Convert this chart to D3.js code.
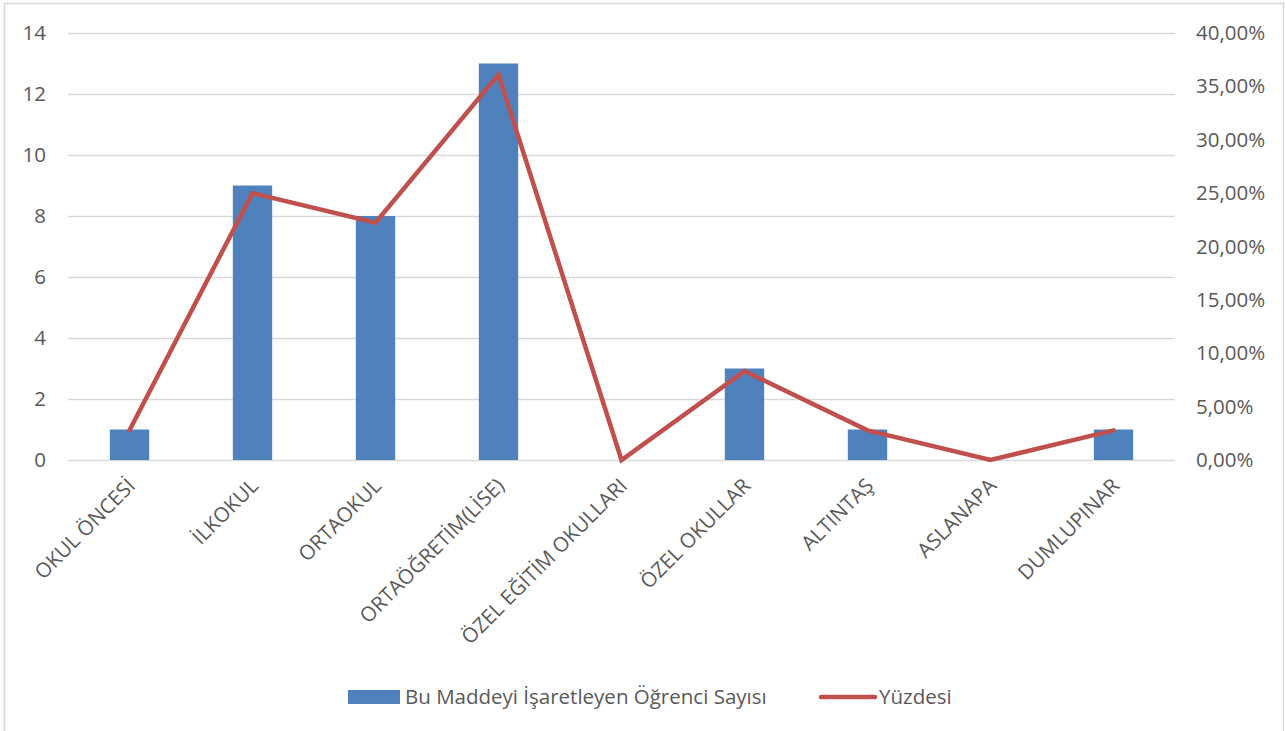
<!DOCTYPE html>
<html>
<head>
<meta charset="utf-8">
<script src="https://cdn.jsdelivr.net/npm/d3@7"></script>
<style>
  body { margin: 0; background: #fff; }
  svg text { font-family: "Open Sans", Lato, sans-serif; fill: #595959; }
</style>
</head>
<body>
<svg id="chart" width="1285" height="731"></svg>
<script>
// Veriler
const categories = ["OKUL ÖNCESİ", "İLKOKUL", "ORTAOKUL", "ORTAÖĞRETİM(LİSE)", "ÖZEL EĞİTİM OKULLARI",
  "ÖZEL OKULLAR", "ALTINTAŞ", "ASLANAPA", "DUMLUPINAR"];
const counts = [1, 9, 8, 13, 0, 3, 1, 0, 1];
const percents = [2.78, 25.0, 22.22, 36.11, 0, 8.33, 2.78, 0, 2.78];
const leftTicks = [0, 2, 4, 6, 8, 10, 12, 14];
const rightTicks = [0, 5, 10, 15, 20, 25, 30, 35, 40];
const seriesNames = ["Bu Maddeyi İşaretleyen Öğrenci Sayısı", "Yüzdesi"];

const svg = d3.select("#chart");
const W = +svg.attr("width"), H = +svg.attr("height");
const fs = "20.5px";

// çerçeve
svg.append("rect")
  .attr("x", 4.5).attr("y", 3.5).attr("width", W - 6).attr("height", H + 10)
  .attr("fill", "none").attr("stroke", "#d9d9d9").attr("stroke-width", 1.5);

const plot = { left: 68, right: 1175, top: 33, bottom: 460 };

const x = d3.scaleBand().domain(categories).range([plot.left, plot.right]).paddingInner(0.68).paddingOuter(0.34);
const yL = d3.scaleLinear().domain([0, 14]).range([plot.bottom, plot.top]);
const yR = d3.scaleLinear().domain([0, 40]).range([plot.bottom, plot.top]);
const cx = d => x(d) + x.bandwidth() / 2;

// ızgara
svg.append("g").selectAll("line").data(leftTicks).join("line")
  .attr("x1", plot.left).attr("x2", plot.right)
  .attr("y1", d => Math.round(yL(d)) + 0.5).attr("y2", d => Math.round(yL(d)) + 0.5)
  .attr("stroke", "#d9d9d9").attr("stroke-width", 1.5);

// sol eksen
const axL = svg.append("g").attr("transform", `translate(${plot.left},0)`)
  .call(d3.axisLeft(yL).tickValues(leftTicks).tickSize(0).tickPadding(22));
axL.select(".domain").remove();
axL.selectAll("text").style("font-size", fs).attr("fill", "#595959");

// sağ eksen
const axR = svg.append("g").attr("transform", `translate(${plot.right},0)`)
  .call(d3.axisRight(yR).tickValues(rightTicks).tickSize(0).tickPadding(21)
    .tickFormat(d => d3.format(".2f")(d).replace(".", ",") + "%"));
axR.select(".domain").remove();
axR.selectAll("text").style("font-size", fs).attr("fill", "#595959");

// çubuklar
svg.append("g").selectAll("rect").data(categories).join("rect")
  .attr("x", d => x(d)).attr("width", x.bandwidth())
  .attr("y", (d, i) => yL(counts[i])).attr("height", (d, i) => yL(0) - yL(counts[i]))
  .attr("fill", "#4f81bd");

// çizgi
const line = d3.line().x((d, i) => cx(categories[i])).y(d => yR(d));
svg.append("path").datum(percents)
  .attr("fill", "none").attr("stroke", "#c0504d").attr("stroke-width", 4.5)
  .attr("stroke-linejoin", "miter").attr("stroke-linecap", "round")
  .attr("d", line);

// x etiketleri
svg.append("g").selectAll("text").data(categories).join("text")
  .attr("transform", d => `translate(${cx(d) + 2},${plot.bottom + 22}) rotate(-45)`)
  .attr("text-anchor", "end")
  .attr("dy", "0.35em")
  .style("font-size", fs)
  .text(d => d);

// lejant
const lg = svg.append("g");
lg.append("rect").attr("x", 348).attr("y", 690).attr("width", 52).attr("height", 14).attr("fill", "#4f81bd");
lg.append("text").attr("x", 405).attr("y", 697).attr("dy", "0.35em").style("font-size", fs).text(seriesNames[0]);
lg.append("line").attr("x1", 821).attr("x2", 875).attr("y1", 697).attr("y2", 697)
  .attr("stroke", "#c0504d").attr("stroke-width", 4.5).attr("stroke-linecap", "round");
lg.append("text").attr("x", 879).attr("y", 697).attr("dy", "0.35em").style("font-size", fs).text(seriesNames[1]);
</script>
</body>
</html>
